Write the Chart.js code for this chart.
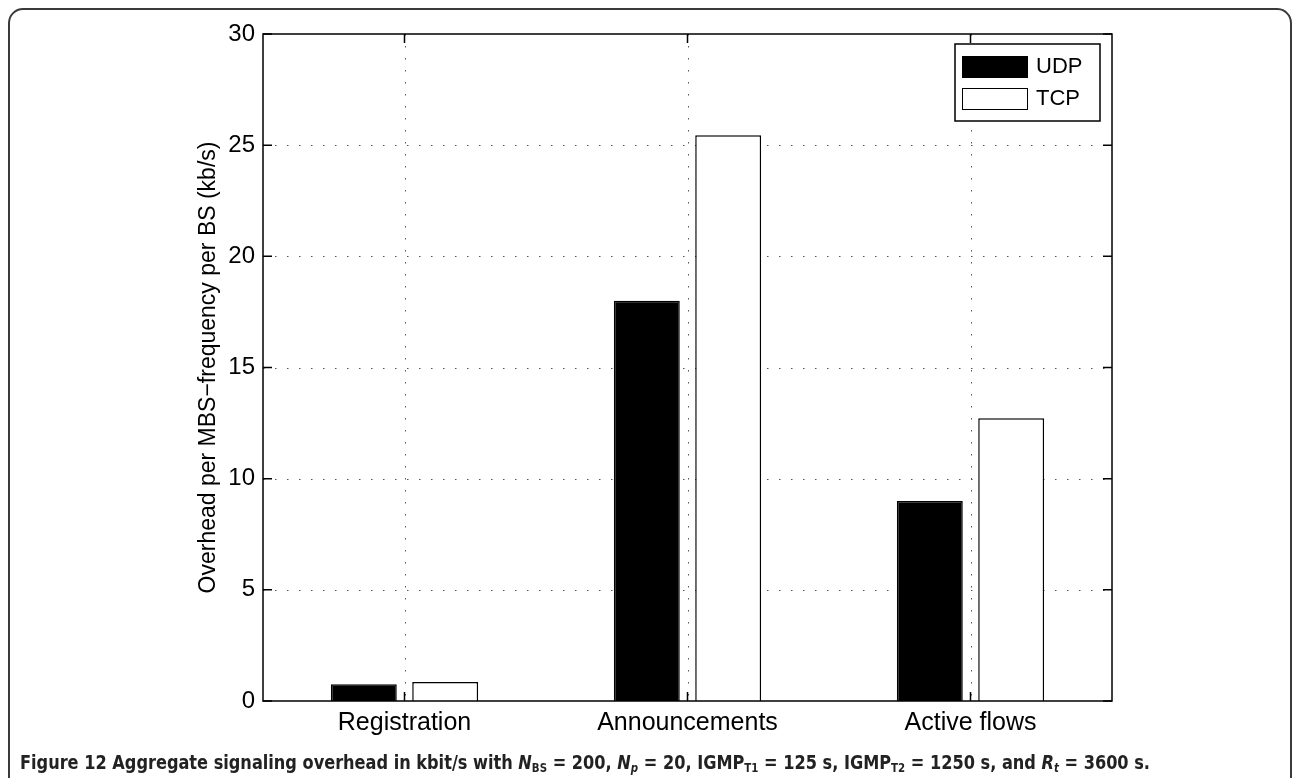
<!DOCTYPE html>
<html>
<head>
<meta charset="utf-8">
<script src="https://cdn.jsdelivr.net/npm/chart.js@4.4.1/dist/chart.umd.min.js"></script>
<style>
  html, body { margin: 0; padding: 0; background: #fff; }
  body { width: 1292px; height: 778px; position: relative; overflow: hidden; }
  #myChart { position: absolute; left: 0; top: 0; }
  #frame {
    position: absolute; left: 8px; top: 8px; width: 1280px; height: 820px;
    border: 2px solid #3a3a3a; border-radius: 15px; pointer-events: none;
  }
  #caption {
    position: absolute; left: 20px; top: 751px; white-space: nowrap;
    font-family: "Liberation Sans Narrow", "DejaVu Sans Condensed", sans-serif;
    font-weight: bold; font-size: 19px; color: #222; transform-origin: 0 0;
  }
  #caption sub { font-size: 12px; vertical-align: -3px; line-height: 0; }
</style>
</head>
<body>
<canvas id="myChart" width="1292" height="778"></canvas>
<div id="frame"></div>
<div id="caption"><b>Figure 12</b> Aggregate signaling overhead in kbit/s with <i>N</i><sub>BS</sub> = 200, <i>N<sub>p</sub></i> = 20, IGMP<sub>T1</sub> = 125 s, IGMP<sub>T2</sub> = 1250 s, and <i>R<sub>t</sub></i> = 3600 s.</div>
<script>
// Valores
const categories = ['Registration', 'Announcements', 'Active flows'];
const udpValues = [0.75, 18.0, 9.0];
const tcpValues = [0.86, 25.45, 12.72];
const yTicks = [0, 5, 10, 15, 20, 25, 30];
const seriesNames = ['UDP', 'TCP'];
const yTitle = 'Overhead per MBS\u2212frequency per BS (kb/s)';

const FONT = '"Liberation Sans", Arial, sans-serif';

// Rejilla punteada, caja de ejes, marcas interiores, título y leyenda estilo MATLAB
const matlabAxes = {
    id: 'matlabAxes',
    beforeDatasetsDraw(chart) {
        const { ctx, chartArea: a, scales } = chart;
        ctx.save();
        ctx.strokeStyle = '#555';
        ctx.lineWidth = 1;
        ctx.setLineDash([1.5, 10.5]);
        yTicks.slice(1, -1).forEach(v => {
            const y = Math.round(scales.y.getPixelForValue(v)) + 0.5;
            ctx.beginPath(); ctx.moveTo(a.left, y); ctx.lineTo(a.right, y); ctx.stroke();
        });
        categories.forEach((c, i) => {
            const x = Math.round(scales.x.getPixelForValue(i)) + 0.5;
            ctx.beginPath(); ctx.moveTo(x, a.top); ctx.lineTo(x, a.bottom); ctx.stroke();
        });
        ctx.restore();
    },
    afterDatasetsDraw(chart) {
        const { ctx, chartArea: a, scales } = chart;
        const tick = 9;
        ctx.save();
        ctx.strokeStyle = '#000';
        ctx.lineWidth = 1.5;
        ctx.strokeRect(a.left, a.top, a.right - a.left, a.bottom - a.top);
        ctx.beginPath();
        yTicks.forEach(v => {
            const y = scales.y.getPixelForValue(v);
            ctx.moveTo(a.left, y); ctx.lineTo(a.left + tick, y);
            ctx.moveTo(a.right, y); ctx.lineTo(a.right - tick, y);
        });
        categories.forEach((c, i) => {
            const x = scales.x.getPixelForValue(i);
            ctx.moveTo(x, a.bottom); ctx.lineTo(x, a.bottom - tick);
            ctx.moveTo(x, a.top); ctx.lineTo(x, a.top + tick);
        });
        ctx.stroke();

        // título del eje y
        ctx.fillStyle = '#000';
        ctx.font = '23px ' + FONT;
        ctx.textAlign = 'center';
        ctx.textBaseline = 'middle';
        ctx.translate(209, (a.top + a.bottom) / 2);
        ctx.rotate(-Math.PI / 2);
        ctx.fillText(yTitle, 0, 0);
        ctx.setTransform(1, 0, 0, 1, 0, 0);

        // leyenda
        const box = { left: 955, top: 44, right: 1100, bottom: 121 };
        ctx.fillStyle = '#fff';
        ctx.fillRect(box.left, box.top, box.right - box.left, box.bottom - box.top);
        ctx.lineWidth = 1.5;
        ctx.strokeRect(box.left, box.top, box.right - box.left, box.bottom - box.top);
        const fills = ['#000', '#fff'];
        ctx.font = '22px ' + FONT;
        ctx.textAlign = 'left';
        seriesNames.forEach((name, i) => {
            const top = 56 + i * 32;
            ctx.fillStyle = fills[i];
            ctx.fillRect(962, top, 65, 21);
            ctx.lineWidth = 1;
            ctx.strokeStyle = '#000';
            ctx.strokeRect(962.5, top + 0.5, 65, 21);
            ctx.fillStyle = '#000';
            ctx.fillText(name, 1036, top + 11);
        });
        ctx.restore();
    }
};

function renderChart() {
    const ctx = document.getElementById('myChart').getContext('2d');
    new Chart(ctx, {
        type: 'bar',
        data: {
            labels: categories,
            datasets: [
                { label: seriesNames[0], data: udpValues, backgroundColor: '#000', borderColor: '#000', borderWidth: 1.5 },
                { label: seriesNames[1], data: tcpValues, backgroundColor: '#fff', borderColor: '#000', borderWidth: 1.5 }
            ]
        },
        options: {
            responsive: false,
            animation: false,
            events: [],
            categoryPercentage: 0.575,
            barPercentage: 0.81,
            layout: { padding: { left: 0, top: 34, right: 180, bottom: 27 } },
            plugins: { legend: { display: false }, tooltip: { enabled: false } },
            scales: {
                x: {
                    grid: { display: false, drawTicks: false },
                    border: { display: false },
                    ticks: { color: '#000', font: { family: FONT, size: 25 }, padding: 7 },
                    afterFit: s => { s.height = 50; }
                },
                y: {
                    min: 0, max: 30,
                    grid: { display: false, drawTicks: false },
                    border: { display: false },
                    ticks: { stepSize: 5, color: '#000', font: { family: FONT, size: 24 }, padding: 8 },
                    afterFit: s => { s.width = 263; }
                }
            }
        },
        plugins: [matlabAxes]
    });
}

// ajustar el ancho del pie de figura
function fitCaption() {
    const cap = document.getElementById('caption');
    const w = cap.getBoundingClientRect().width;
    cap.style.transform = 'scaleX(' + (1130 / w) + ')';
}

renderChart();
fitCaption();
</script>
</body>
</html>
